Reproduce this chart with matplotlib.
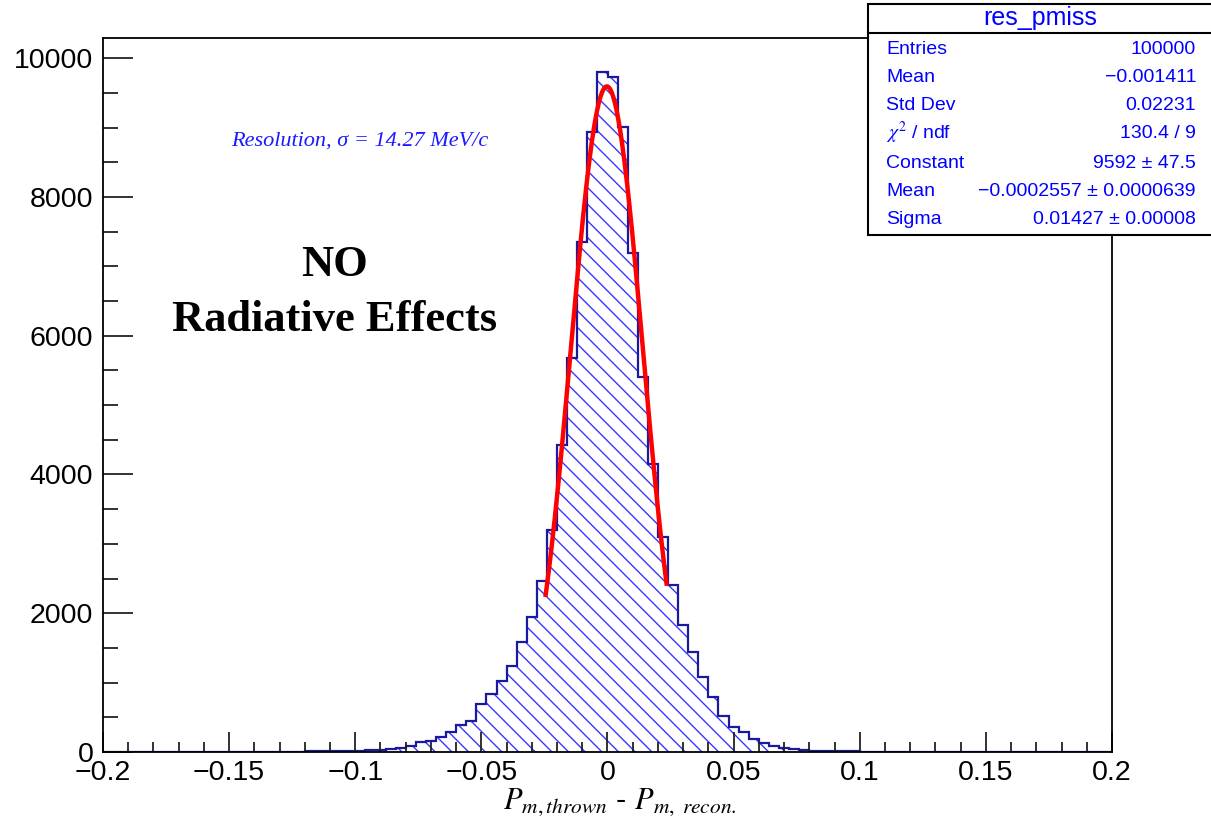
import numpy as np
import matplotlib
matplotlib.use('Agg')
import matplotlib.pyplot as plt
from matplotlib.patches import Rectangle
from matplotlib.lines import Line2D
from matplotlib.ticker import MultipleLocator

plt.rcParams['font.family'] = ['Liberation Sans', 'DejaVu Sans']
plt.rcParams['mathtext.fontset'] = 'stix'
plt.rcParams['hatch.linewidth'] = 1.0

W, H = 1211, 819

# histogram: 100 bins from -0.2 to 0.2
x_lo, x_hi, n_bins = -0.2, 0.2, 100
counts = [
    0, 0, 1, 0, 1, 1, 1, 2, 2, 2,
    3, 3, 3, 4, 4, 5, 5, 6, 6, 7,
    8, 9, 10, 11, 13, 18, 22, 30, 39, 58,
    91, 140, 163, 221, 293, 389, 451, 692, 840, 1023,
    1239, 1580, 1950, 2468, 3205, 4424, 5673, 7349, 8929, 9794,
    9722, 9001, 7186, 5408, 4150, 3102, 2406, 1835, 1441, 1085,
    788, 523, 365, 284, 187, 134, 91, 62, 43, 29,
    20, 16, 13, 11, 9, 7, 6, 5, 4, 3,
    2, 2, 2, 2, 2, 2, 1, 1, 1, 1,
    1, 1, 1, 0, 0, 0, 0, 0, 0, 0,
]

# gaussian fit parameters (from the stats box)
fit_const, fit_mean, fit_sigma = 9592, -0.0002557, 0.01427
fit_lo, fit_hi = -0.0245, 0.0234

hist_name = 'res_pmiss'
stats_labels = ['Entries', 'Mean', 'Std Dev', r'$\chi^2$ / ndf', 'Constant', 'Mean', 'Sigma']
stats_values = ['100000', '\u22120.001411', '0.02231', '130.4 / 9', '9592 \u00b1 47.5',
                '\u22120.0002557 \u00b1 0.0000639', '0.01427 \u00b1 0.00008']


def px(x, y):
    return x / W, 1 - y / H


fig = plt.figure(figsize=(W / 100, H / 100), dpi=100)
ax = fig.add_axes([103 / W, 1 - 752 / H, (1112 - 103) / W, (752 - 38) / H])

edges = np.linspace(x_lo, x_hi, n_bins + 1)
ax.stairs(counts, edges, fill=True, facecolor='none', edgecolor='#3838ff',
          hatch='\\\\', linewidth=0)
ax.stairs(counts, edges, fill=False, edgecolor='#1a1aa0', linewidth=1.6)

xf = np.linspace(fit_lo, fit_hi, 200)
yf = fit_const * np.exp(-0.5 * ((xf - fit_mean) / fit_sigma) ** 2)
ax.plot(xf, yf, color='#ff0000', lw=3.2)

ax.set_xlim(x_lo, x_hi)
ax.set_ylim(0, 10290)
ax.xaxis.set_minor_locator(MultipleLocator(0.01))
ax.yaxis.set_major_locator(MultipleLocator(2000))
ax.yaxis.set_minor_locator(MultipleLocator(500))
ax.set_xticks(np.arange(-0.2, 0.2001, 0.05))
ax.set_xticklabels(['\u22120.2', '\u22120.15', '\u22120.1', '\u22120.05', '0',
                    '0.05', '0.1', '0.15', '0.2'])
ax.tick_params(axis='both', which='both', direction='in', top=False, right=False,
               labelsize=20.5, width=1.3, color='#222222')
ax.tick_params(axis='x', which='major', length=14.5, pad=6)
ax.tick_params(axis='x', which='minor', length=7.2)
ax.tick_params(axis='y', which='major', length=21.5, pad=7)
ax.tick_params(axis='y', which='minor', length=10.8)
for s in ax.spines.values():
    s.set_linewidth(1.3)

ax.set_xlabel(r'$P_{m,thrown}$ - $P_{m,\ recon.}$', fontsize=22)
ax.xaxis.set_label_coords((620 - 103) / (1112 - 103), -0.048, transform=ax.transAxes)
ax.xaxis.label.set_va('top')

fig.text(*px(360, 141), 'Resolution, \u03c3 = 14.27 MeV/c', color='#1a1aff',
         fontsize=16, family='Liberation Serif', style='italic', ha='center', va='center')
fig.text(*px(335, 265), 'NO', fontsize=32, family='Liberation Serif',
         weight='bold', ha='center', va='center')
fig.text(*px(335, 320), 'Radiative Effects', fontsize=32, family='Liberation Serif',
         weight='bold', ha='center', va='center')

# stats box
bx0, by0, bx1, by1 = px(868, 235) + px(1215, 4)
fig.add_artist(Rectangle((bx0, by0), bx1 - bx0, by1 - by0, transform=fig.transFigure,
                         facecolor='white', edgecolor='black', lw=1.5, zorder=5))
fig.add_artist(Line2D([bx0, bx1], [1 - 33 / H] * 2, transform=fig.transFigure,
                      color='black', lw=1.5, zorder=6))
fig.text(*px(1040, 18), hist_name, color='#0000ff', fontsize=18,
         ha='center', va='center', zorder=7)
row_y = [49, 77, 106, 133, 163, 191, 219]
for lab, val, yy in zip(stats_labels, stats_values, row_y):
    fig.text(*px(886, yy), lab, color='#0000ff', fontsize=14, ha='left',
             va='center', zorder=7)
    fig.text(*px(1196, yy), val, color='#0000ff', fontsize=14, ha='right',
             va='center', zorder=7)

fig.savefig('out.png', dpi=100)
